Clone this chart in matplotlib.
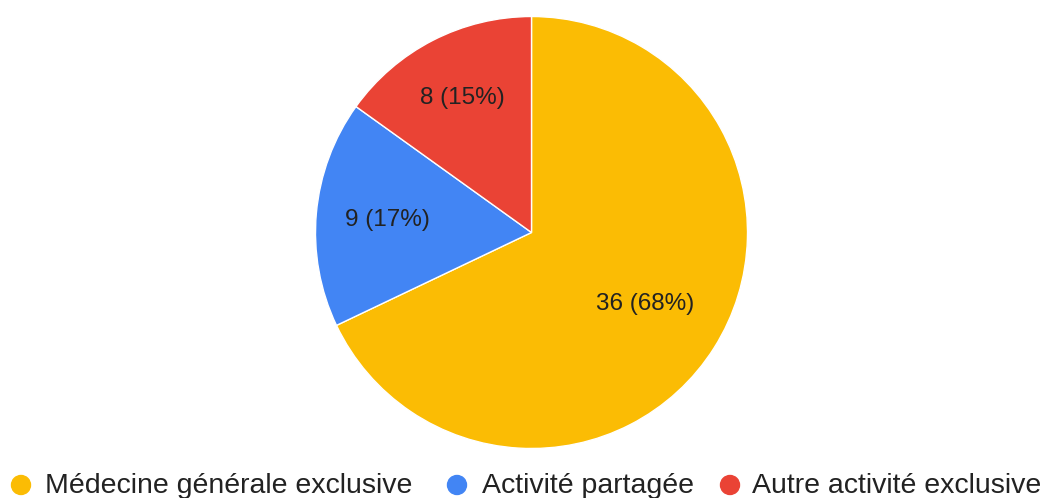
import matplotlib.pyplot as plt
from matplotlib.patches import Circle

# data
categories = ["Médecine générale exclusive", "Activité partagée", "Autre activité exclusive"]
counts = [36, 9, 8]
colors = ["#FBBC04", "#4285F4", "#EA4335"]

plt.rcParams['font.family'] = ['Liberation Sans', 'DejaVu Sans']

W, H = 1047, 498
fig = plt.figure(figsize=(W / 100, H / 100), dpi=100)

# pie axes: centre (531.5, 232.5) px from top-left, radius 216 px
r = 216
cx, cy = 531.5, 232.5
ax = fig.add_axes([(cx - r) / W, (H - cy - r) / H, 2 * r / W, 2 * r / H])

total = sum(counts)
wedges, texts, autotexts = ax.pie(
    counts, colors=colors, startangle=90, counterclock=False,
    autopct=lambda p: f"{round(p * total / 100)} ({p:.0f}%)",
    pctdistance=0.66, radius=1,
    wedgeprops=dict(edgecolor='white', linewidth=1),
    textprops=dict(fontsize=17.5, color='#222222'))

# Google places each label a little differently
label_r = [0.62, 0.67, 0.70]
for t, rr in zip(autotexts, label_r):
    x, y = t.get_position()
    d = (x ** 2 + y ** 2) ** 0.5
    t.set_position((x / d * rr, y / d * rr))

ax.set_xlim(-1, 1)
ax.set_ylim(-1, 1)
ax.set_aspect('equal')
ax.axis('off')

# legend drawn by hand in pixel coordinates
lax = fig.add_axes([0, 0, 1, 1])
lax.set_xlim(0, W)
lax.set_ylim(H, 0)
lax.axis('off')
marker_x = [21, 457, 730]
text_x = [45, 482, 752]
for lbl, col, mx, tx in zip(categories, colors, marker_x, text_x):
    lax.add_patch(Circle((mx, 485), 9.5, color=col))
    lax.text(tx, 493, lbl, fontsize=20.5, color='#222222', va='baseline', ha='left')

fig.savefig("out.png", dpi=100)
